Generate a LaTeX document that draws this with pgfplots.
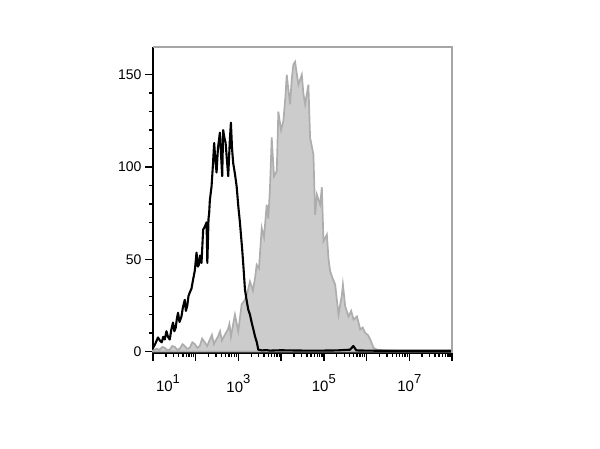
\documentclass[border=0pt]{standalone}
\usepackage{pgfplots}
\pgfplotsset{compat=1.18}
\usepackage{fontspec}
\setmainfont{Liberation Sans}
\newcommand{\pw}[1]{10\raisebox{8.5pt}{\fontsize{13}{13}\selectfont #1}}
\begin{document}
\begin{tikzpicture}
\useasboundingbox (0,0) rectangle (600pt,448pt);
\begin{axis}[
  at={(153pt,95pt)}, anchor=south west,
  scale only axis, width=299pt, height=306pt,
  xmin=1, xmax=8, ymin=-0.8, ymax=165,
  axis x line*=bottom, axis y line*=left,
  axis line style={black, line width=1.5pt},
  tick align=outside,
  major tick length=8pt, minor tick length=4pt,
  every tick/.style={black, line width=1.3pt},
  xtick={1,2,3,4,5,6,7,8},
  xticklabels={\hspace*{30pt}\pw{1},,\pw{3},,\pw{5},,\pw{7},},
  minor xtick={1.301,1.477,1.602,1.699,1.778,1.845,1.903,1.954,
    2.301,2.477,2.602,2.699,2.778,2.845,2.903,2.954,
    3.301,3.477,3.602,3.699,3.778,3.845,3.903,3.954,
    4.301,4.477,4.602,4.699,4.778,4.845,4.903,4.954,
    5.301,5.477,5.602,5.699,5.778,5.845,5.903,5.954,
    6.301,6.477,6.602,6.699,6.778,6.845,6.903,6.954,
    7.301,7.477,7.602,7.699,7.778,7.845,7.903,7.954},
  xticklabel style={font=\fontsize{15}{15}\selectfont, anchor=north, yshift=-10pt},
  ytick={0,50,100,150},
  minor y tick num=4,
  yticklabel style={font=\fontsize{14}{14}\selectfont},
  /pgf/number format/assume math mode=true,
  clip=false,
]
\addplot[fill=black!20, draw=black!32, line width=1.7pt] table {
1.000 0.5
1.080 1.5
1.157 1
1.220 2.5
1.275 2
1.330 0.8
1.392 1
1.450 3
1.509 2.5
1.570 1
1.627 1.5
1.690 4
1.744 3
1.800 1.5
1.861 2
1.920 5
1.979 4
2.040 2
2.096 3
2.150 7
2.213 5
2.270 3
2.331 6.5
2.380 9
2.425 4
2.470 6
2.519 8
2.570 11
2.613 6
2.680 9
2.754 12
2.790 15
2.824 8
2.870 14
2.918 20
2.995 11
3.040 19
3.075 25.5
3.153 28
3.210 32
3.270 38
3.340 33
3.390 40
3.427 47
3.481 45
3.545 67
3.599 62
3.662 79.6
3.700 72
3.739 89
3.779 116
3.833 95
3.897 97.7
3.934 130
3.998 120
4.052 125
4.100 138
4.131 150
4.208 134
4.250 148
4.286 155.5
4.326 157
4.404 144.6
4.484 150
4.520 140
4.561 134
4.638 144.6
4.678 116
4.756 106.7
4.796 74
4.836 85
4.913 79.6
4.953 89
4.991 59.8
5.070 63.4
5.110 50
5.148 43.5
5.200 40
5.265 36.3
5.343 20
5.423 30.9
5.446 36.3
5.500 24.5
5.577 19
5.640 22
5.695 17.3
5.775 19
5.852 12
5.910 13
5.969 10
6.030 9
6.087 6.5
6.164 2
6.244 1
6.400 0.6
6.556 0.4
7.000 0.3
8.000 0.3
} \closedcycle;
\addplot[black, line width=2.1pt, line join=round] table {
1.000 2
1.050 4
1.117 7.6
1.160 6
1.204 5
1.240 8
1.275 6.5
1.315 11
1.350 8
1.392 6.5
1.430 12
1.469 15.7
1.500 11
1.533 13
1.560 18
1.587 21
1.620 16
1.667 19
1.700 24
1.744 28
1.770 22
1.803 25
1.830 30
1.861 32
1.900 34
1.939 39
1.980 44
2.019 53.6
2.050 46
2.073 47
2.100 52
2.136 48
2.174 66
2.220 68
2.254 70
2.272 48
2.300 72
2.315 75
2.331 82
2.371 89.5
2.400 100
2.432 113
2.460 104
2.488 97
2.520 110
2.566 118.6
2.590 108
2.620 95
2.643 120
2.670 116
2.700 113
2.730 104
2.761 95
2.800 115
2.824 124
2.850 110
2.878 102
2.920 96
2.958 89.5
3.000 78
3.035 70
3.089 55
3.120 45
3.153 33.6
3.190 28
3.230 22.7
3.270 20
3.310 15.7
3.350 12
3.387 8.3
3.430 5
3.465 1
3.552 0.6
3.650 0.8
3.739 0.5
4.000 0.7
4.210 0.6
4.600 0.5
4.910 0.5
5.300 0.6
5.615 1
5.690 3
5.760 0.6
6.000 0.5
6.320 0.4
7.000 0.4
8.000 0.4
};
\draw[black!35, line width=1.2pt] (rel axis cs:0,1) -- (rel axis cs:1,1) -- (rel axis cs:1,0);
\end{axis}
\end{tikzpicture}
\end{document}
